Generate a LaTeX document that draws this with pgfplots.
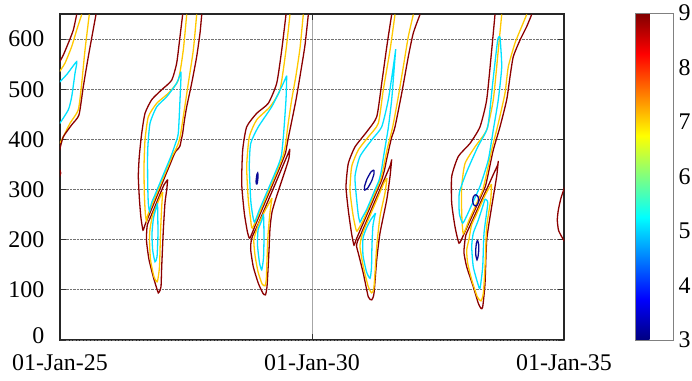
\documentclass[border=0pt]{standalone}
\usepackage{fontspec}
\setmainfont{Liberation Serif}
\newfontfamily\lserif{Liberation Serif}
\usepackage{pgfplots}
\pgfplotsset{compat=1.18}
\definecolor{cRed}{RGB}{139,0,0}
\definecolor{cYel}{RGB}{255,200,0}
\definecolor{cCyan}{RGB}{0,225,255}
\definecolor{cBlue}{RGB}{10,10,150}
\begin{document}
\begin{tikzpicture}
\useasboundingbox (0,0) rectangle (692bp,381bp);
\begin{axis}[
  at={(60bp,41bp)}, anchor=south west,
  width=504bp, height=326bp, scale only axis,
  xmin=0, xmax=10, ymin=0, ymax=650,
  xtick={0,5,10}, xticklabels={01-Jan-25,01-Jan-30,01-Jan-35},
  ytick={100,200,...,600},
  extra y ticks={0},
  extra y tick style={yticklabel style={yshift=4bp}},
  tick align=inside, major tick length=6bp,
  ymajorgrids, xmajorgrids,
  y grid style={densely dotted, black!55, line width=0.7bp},
  x grid style={black!35, line width=0.7bp},
  axis line style={line width=1.2bp, black!85},
  tick style={black!80, line width=0.8bp},
  ticklabel style={font=\lserif\fontsize{24}{24}\selectfont, inner sep=0bp},
  yticklabel style={xshift=-15.5bp},
  xticklabel style={yshift=-14bp},
  /pgf/number format/assume math mode=true,
  every axis plot/.append style={line width=1.3bp, smooth, tension=0.35},
  point meta min=3, point meta max=9,
  colormap/jet,
  colorbar,
  colorbar style={
    at={(parent axis.south east)}, anchor=south west, xshift=63bp,
    width=38bp, height=327bp, scale only axis,
    ytick={3,4,...,9}, major tick length=0pt,
    yticklabel pos=right,
    yticklabel style={font=\lserif\fontsize{24}{24}\selectfont, inner sep=0bp, xshift=5bp},
    axis line style={black!50, line width=0.6bp},
    /pgf/number format/assume math mode=true,
  },
]
% ---- plume 1 (left edge)
\addplot[cRed] coordinates {(0.331,649)(0.264,618)(0.165,592)(0.065,568)(-0.01,554)};
\addplot[cYel] coordinates {(0.431,649)(0.331,618)(0.232,585)(0.099,552)(-0.01,535)};
\addplot[cCyan] coordinates {(-0.01,514)(0.139,530)(0.331,555)(0.298,532)(0.232,485)(0.165,459)(-0.01,431)};
\addplot[cYel] coordinates {(0.581,649)(0.496,578)(0.431,512)(0.363,459)(0.198,432)(0.034,399)(-0.01,392)};
\addplot[cRed] coordinates {(0.714,649)(0.562,565)(0.462,505)(0.377,449)(0.232,429)(0.065,405)(-0.01,378)};
\addplot[cRed] coordinates {(-0.02,342)(0.015,333)(-0.02,324)};
% ---- plume 2
\addplot[cRed] coordinates {(2.434,649)(2.381,605)(2.315,552)(2.216,518)(2.018,499)(1.819,479)(1.687,452)(1.621,412)(1.573,366)(1.554,326)(1.577,279)(1.607,243)(1.647,219)(1.685,229)(1.766,249)(1.849,269)(1.931,289)(2.014,309)(2.095,329)(2.179,349)(2.260,369)(2.302,377)(2.351,382)(2.381,387)(2.411,401)(2.434,412)(2.470,439)(2.514,465)(2.613,512)(2.712,565)(2.778,612)(2.812,649)};
\addplot[cYel] coordinates {(2.514,649)(2.446,578)(2.347,518)(2.149,492)(1.919,472)(1.752,445)(1.687,399)(1.667,346)(1.673,293)(1.692,253)(1.716,237)(1.742,249)(1.825,269)(1.907,289)(1.990,309)(2.071,329)(2.155,349)(2.236,369)(2.292,379)(2.351,393)(2.391,409)(2.446,445)(2.546,512)(2.645,578)(2.712,649)};
\addplot[cCyan] coordinates {(2.401,535)(2.315,512)(2.117,485)(1.919,465)(1.786,432)(1.740,379)(1.740,312)(1.752,273)(1.776,257)(1.815,273)(1.883,289)(1.966,309)(2.048,329)(2.131,349)(2.212,369)(2.282,389)(2.347,412)(2.381,479)(2.401,525)(2.401,535)};
\addplot[cRed] coordinates {(2.137,320)(2.117,299)(2.083,273)(2.050,219)(2.018,146)(2.004,106)(1.970,96)(1.950,94)(1.919,103)(1.851,126)(1.766,160)(1.720,193)(1.716,207)(1.732,229)(1.813,249)(1.897,269)(1.978,289)(2.062,309)(2.137,320)};
\addplot[cYel] coordinates {(2.038,295)(2.018,266)(1.994,213)(1.974,146)(1.930,116)(1.865,126)(1.796,160)(1.776,199)(1.786,221)(1.837,249)(1.921,269)(2.002,289)(2.038,295)};
\addplot[cCyan] coordinates {(1.935,273)(1.944,213)(1.925,166)(1.885,156)(1.839,179)(1.825,213)(1.855,243)(1.895,259)(1.935,273)};
% ---- plume 3
\addplot[cRed] coordinates {(4.484,649)(4.399,578)(4.300,512)(4.133,472)(3.903,452)(3.704,425)(3.625,379)(3.605,312)(3.657,253)(3.720,215)(3.766,203)(3.875,229)(4.002,259)(4.129,289)(4.256,319)(4.381,349)(4.474,373)(4.514,395)(4.583,429)(4.683,479)(4.782,538)(4.861,588)(4.927,649)};
\addplot[cYel] coordinates {(4.563,649)(4.484,578)(4.365,499)(4.167,465)(3.903,439)(3.756,405)(3.704,346)(3.736,279)(3.780,243)(3.815,223)(3.978,259)(4.105,289)(4.232,319)(4.357,349)(4.425,367)(4.474,389)(4.524,429)(4.597,479)(4.683,528)(4.762,582)(4.827,649)};
\addplot[cCyan] coordinates {(4.498,527)(4.399,505)(4.200,465)(3.935,425)(3.784,392)(3.756,346)(3.784,279)(3.819,251)(3.859,235)(3.954,259)(4.081,289)(4.208,319)(4.333,349)(4.395,369)(4.435,409)(4.484,479)(4.498,527)};
\addplot[cBlue] coordinates {(3.90,310)(3.89,316)(3.905,329)(3.922,333)(3.93,327)(3.915,313)(3.90,310)};
\addplot[cRed] coordinates {(4.560,381)(4.544,363)(4.484,343)(4.385,313)(4.286,283)(4.206,255)(4.167,223)(4.147,179)(4.127,140)(4.107,106)(4.077,90)(4.028,93)(3.935,113)(3.835,146)(3.784,179)(3.790,195)(3.819,207)(3.923,229)(4.050,259)(4.177,289)(4.304,319)(4.429,349)(4.540,375)(4.560,381)};
\addplot[cYel] coordinates {(4.206,283)(4.167,255)(4.127,209)(4.107,160)(4.093,120)(4.067,108)(4.008,112)(3.929,136)(3.869,169)(3.845,199)(3.899,219)(3.948,233)(4.073,259)(4.206,283)};
\addplot[cCyan] coordinates {(4.038,251)(4.048,209)(4.038,164)(4.002,140)(3.958,154)(3.919,189)(3.929,219)(3.998,237)(4.038,251)};
% ---- plume 4
\addplot[cRed] coordinates {(6.581,649)(6.494,592)(6.383,512)(6.284,445)(6.085,415)(5.853,385)(5.720,352)(5.675,306)(5.720,259)(5.784,213)(5.833,189)(5.871,199)(5.956,219)(6.042,239)(6.127,259)(6.212,279)(6.296,299)(6.381,319)(6.438,339)(6.478,359)(6.518,377)(6.577,403)(6.647,425)(6.780,492)(6.911,565)(7.010,612)(7.143,649)};
\addplot[cYel] coordinates {(6.647,649)(6.548,578)(6.415,499)(6.315,432)(6.117,405)(5.919,379)(5.788,346)(5.754,299)(5.808,253)(5.853,229)(5.893,217)(6.018,239)(6.103,259)(6.188,279)(6.272,299)(6.357,319)(6.409,339)(6.448,359)(6.498,383)(6.601,425)(6.712,485)(6.812,545)(6.911,605)(7.010,649)};
\addplot[cCyan] coordinates {(6.661,580)(6.613,545)(6.514,479)(6.383,425)(6.185,399)(5.952,366)(5.853,326)(5.887,279)(5.919,249)(5.952,235)(5.992,243)(6.079,259)(6.165,279)(6.248,299)(6.333,319)(6.379,339)(6.409,359)(6.458,389)(6.514,423)(6.581,479)(6.633,545)(6.661,580)};
\addplot[cBlue] coordinates {(6.226,339)(6.232,332)(6.183,317)(6.105,303)(6.048,299)(6.042,306)(6.091,321)(6.169,335)(6.226,339)};
\addplot[cRed] coordinates {(6.581,360)(6.548,326)(6.482,279)(6.349,213)(6.284,160)(6.230,93)(6.185,80)(6.117,86)(6.018,133)(5.919,173)(5.883,187)(5.903,197)(5.962,209)(6.048,229)(6.133,249)(6.216,269)(6.302,289)(6.387,309)(6.472,329)(6.556,349)(6.581,360)};
\addplot[cYel] coordinates {(6.488,323)(6.448,293)(6.349,246)(6.284,186)(6.230,106)(6.185,94)(6.117,106)(6.018,146)(5.952,186)(5.982,205)(6.028,219)(6.113,239)(6.198,259)(6.284,279)(6.367,299)(6.435,315)(6.488,323)};
\addplot[cCyan] coordinates {(6.260,253)(6.210,229)(6.190,189)(6.180,144)(6.151,123)(6.081,136)(6.012,169)(6.012,203)(6.081,223)(6.161,239)(6.260,253)};
% ---- plume 5
\addplot[cRed] coordinates {(8.631,649)(8.565,578)(8.466,479)(8.333,425)(8.135,392)(7.903,366)(7.772,326)(7.772,273)(7.837,226)(7.917,193)(8.004,209)(8.093,229)(8.185,249)(8.274,269)(8.365,289)(8.442,307)(8.498,332)(8.597,379)(8.730,425)(8.863,479)(8.929,525)(8.994,565)(9.127,598)(9.260,625)(9.359,649)};
\addplot[cYel] coordinates {(8.764,649)(8.696,578)(8.597,479)(8.466,419)(8.234,385)(8.036,352)(7.970,306)(7.970,253)(8.002,212)(8.115,239)(8.206,259)(8.296,279)(8.387,299)(8.466,332)(8.565,379)(8.696,432)(8.829,492)(8.895,545)(9.028,592)(9.161,625)(9.260,649)};
\addplot[cCyan] coordinates {(8.730,605)(8.684,598)(8.585,512)(8.486,425)(8.288,385)(8.056,332)(7.923,293)(7.923,253)(7.990,233)(8.077,249)(8.167,269)(8.258,289)(8.343,309)(8.498,359)(8.597,419)(8.696,479)(8.764,545)(8.730,605)};
\addplot[cBlue] coordinates {(8.247,290)(8.293,286)(8.307,278)(8.283,270)(8.247,267)(8.204,270)(8.188,278)(8.204,286)(8.247,290)};
\addplot[cBlue] coordinates {(8.284,199)(8.306,191)(8.308,179)(8.294,166)(8.274,160)(8.252,168)(8.248,179)(8.262,193)(8.284,199)};
\addplot[cRed] coordinates {(8.696,357)(8.664,326)(8.565,266)(8.466,199)(8.433,113)(8.387,66)(8.353,63)(8.300,73)(8.201,106)(8.069,146)(8.016,173)(8.022,187)(8.052,209)(8.141,229)(8.232,249)(8.321,269)(8.413,289)(8.504,309)(8.593,329)(8.684,349)(8.696,357)};
\addplot[cYel] coordinates {(8.562,311)(8.546,279)(8.466,226)(8.433,146)(8.399,93)(8.353,78)(8.280,86)(8.169,120)(8.089,153)(8.069,179)(8.115,201)(8.165,229)(8.256,249)(8.345,269)(8.437,289)(8.512,303)(8.562,311)};
\addplot[cCyan] coordinates {(8.433,281)(8.488,273)(8.413,213)(8.387,146)(8.333,103)(8.288,113)(8.200,146)(8.169,186)(8.200,213)(8.300,239)(8.433,281)};
% ---- right edge
\addplot[cRed] coordinates {(10.02,307)(9.940,283)(9.887,259)(9.867,239)(9.891,219)(9.954,206)(10.02,195)};
\end{axis}
\end{tikzpicture}
\end{document}
